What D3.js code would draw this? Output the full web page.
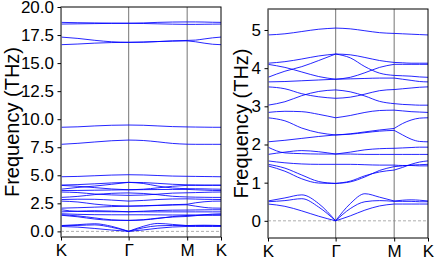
<!DOCTYPE html>
<html>
<head>
<meta charset="utf-8">
<script src="https://cdn.jsdelivr.net/npm/d3@7/dist/d3.min.js"></script>
<style>
  body { margin: 0; background: #fff; }
  text { font-family: "Liberation Sans", Arial, sans-serif; }
</style>
</head>
<body>
<svg id="chart" width="436" height="259"></svg>
<script>
// high symmetry path K - Gamma - M - K (distances in 2pi/a units)
const kLabels = ["K", "Γ", "M", "K"];
const kTicks = [0, 1.3333, 2.4880, 3.1547];
const segFrac = [0, 0.25, 0.5, 0.75, 1];

// frequencies (THz) at K, 3 pts, Γ, 3 pts, M, 3 pts, K
const acousticBands = [
    [0.52, 0.60, 0.68, 0.45, 0, 0.45, 0.71, 0.62, 0.52, 0.54, 0.55, 0.54, 0.52],
    [0.50, 0.53, 0.58, 0.36, 0, 0.32, 0.50, 0.53, 0.51, 0.51, 0.51, 0.50, 0.50],
    [0.44, 0.38, 0.26, 0.12, 0, 0.13, 0.28, 0.39, 0.44, 0.44, 0.44, 0.44, 0.44]
];

const lowOptical = [
    [4.87, 4.90, 4.96, 5.02, 5.05, 5.03, 4.98, 4.93, 4.91, 4.90, 4.89, 4.88, 4.87],
    [4.13, 4.17, 4.24, 4.32, 4.37, 4.35, 4.28, 4.20, 4.15, 4.14, 4.13, 4.13, 4.13],
    [4.10, 4.02, 3.90, 3.78, 3.71, 3.76, 3.88, 4.02, 4.10, 4.10, 4.10, 4.10, 4.10],
    [3.76, 3.92, 4.04, 4.20, 4.37, 4.27, 4.04, 3.87, 3.81, 3.80, 3.79, 3.77, 3.76],
    [3.64, 3.65, 3.67, 3.69, 3.71, 3.72, 3.73, 3.74, 3.74, 3.71, 3.68, 3.65, 3.64],
    [3.51, 3.46, 3.33, 3.25, 3.21, 3.24, 3.32, 3.41, 3.44, 3.46, 3.48, 3.50, 3.51],
    [3.03, 3.12, 3.28, 3.39, 3.43, 3.38, 3.27, 3.13, 3.07, 3.05, 3.04, 3.03, 3.03],
    [2.84, 2.87, 2.86, 2.79, 2.70, 2.76, 2.84, 2.89, 2.90, 2.88, 2.86, 2.85, 2.84],
    [2.70, 2.62, 2.43, 2.31, 2.25, 2.28, 2.33, 2.38, 2.42, 2.55, 2.64, 2.69, 2.70],
    [2.07, 2.11, 2.16, 2.21, 2.25, 2.27, 2.31, 2.35, 2.37, 2.25, 2.14, 2.08, 2.07],
    [1.93, 1.78, 1.76, 1.75, 1.75, 1.80, 1.86, 1.89, 1.90, 1.91, 1.92, 1.93, 1.93],
    [1.74, 1.80, 1.84, 1.81, 1.75, 1.75, 1.74, 1.74, 1.74, 1.74, 1.74, 1.74, 1.74],
    [1.57, 1.52, 1.49, 1.48, 1.48, 1.48, 1.47, 1.46, 1.46, 1.45, 1.45, 1.44, 1.44],
    [1.48, 1.38, 1.20, 1.03, 0.98, 1.02, 1.15, 1.32, 1.42, 1.44, 1.46, 1.47, 1.48],
    [1.44, 1.30, 1.10, 0.99, 0.98, 1.04, 1.18, 1.28, 1.33, 1.40, 1.48, 1.54, 1.57]
];

const highOptical = [
    [7.76, 7.85, 7.97, 8.08, 8.14, 8.10, 7.98, 7.84, 7.77, 7.76, 7.76, 7.76, 7.76],
    [9.28, 9.32, 9.40, 9.46, 9.48, 9.46, 9.40, 9.34, 9.31, 9.30, 9.29, 9.28, 9.28],
    [17.32, 17.20, 17.03, 16.90, 16.85, 16.87, 16.92, 16.98, 17.02, 17.05, 17.15, 17.25, 17.32],
    [16.64, 16.70, 16.78, 16.83, 16.85, 16.87, 16.92, 16.96, 16.98, 16.90, 16.78, 16.68, 16.64],
    [18.63, 18.60, 18.58, 18.56, 18.55, 18.58, 18.63, 18.66, 18.67, 18.67, 18.66, 18.64, 18.63],
    [18.48, 18.50, 18.52, 18.54, 18.55, 18.53, 18.50, 18.47, 18.45, 18.45, 18.46, 18.47, 18.48]
];

const yTicksFull = [0, 2.5, 5, 7.5, 10, 12.5, 15, 17.5, 20];
const yTicksZoom = [0, 1, 2, 3, 4, 5];

const allBands = acousticBands.concat(lowOptical, highOptical);

// k value of every sample point along the path
let kPoints = [];
for (let s = 0; s < 3; s++) {
    segFrac.forEach((f, i) => {
        if (s > 0 && i === 0) return;
        kPoints.push(kTicks[s] + f * (kTicks[s + 1] - kTicks[s]));
    });
}

const svg = d3.select("#chart");

function panel(id, box, yDomain, yTicks, yFormat, labelX) {
    let xScale = d3.scaleLinear().domain([kTicks[0], kTicks[3]]).range([box.x0, box.x1]);
    let yScale = d3.scaleLinear().domain(yDomain).range([box.y1, box.y0]);

    let g = svg.append("g");

    g.append("defs").append("clipPath")
        .attr("id", "clip-" + id)
        .append("rect")
        .attr("x", box.x0).attr("y", box.y0)
        .attr("width", box.x1 - box.x0).attr("height", box.y1 - box.y0);

    let plot = g.append("g").attr("clip-path", "url(#clip-" + id + ")");

    // zero line
    plot.append("line")
        .attr("x1", box.x0).attr("x2", box.x1)
        .attr("y1", yScale(0)).attr("y2", yScale(0))
        .attr("stroke", "#999").attr("stroke-width", 0.8)
        .attr("stroke-dasharray", "3,2");

    // high symmetry lines
    plot.selectAll(".kline")
        .data(kTicks.slice(0, 3))
        .join("line")
        .attr("class", "kline")
        .attr("x1", d => xScale(d)).attr("x2", d => xScale(d))
        .attr("y1", box.y0).attr("y2", box.y1)
        .attr("stroke", "#8c8c8c").attr("stroke-width", 1.2);

    // bands, drawn segment by segment so Γ stays a cusp
    let line = d3.line()
        .x(d => xScale(d[0]))
        .y(d => yScale(d[1]))
        .curve(d3.curveMonotoneX);

    let segs = [];
    allBands.forEach(b => {
        for (let s = 0; s < 3; s++) {
            let pts = [];
            for (let i = 0; i < 5; i++) pts.push([kPoints[s * 4 + i], b[s * 4 + i]]);
            segs.push(pts);
        }
    });

    plot.selectAll(".band")
        .data(segs)
        .join("path")
        .attr("class", "band")
        .attr("d", line)
        .attr("fill", "none")
        .attr("stroke", "#0000ff")
        .attr("stroke-opacity", 0.85)
        .attr("stroke-width", 1);

    // frame
    g.append("rect")
        .attr("x", box.x0).attr("y", box.y0)
        .attr("width", box.x1 - box.x0).attr("height", box.y1 - box.y0)
        .attr("fill", "none").attr("stroke", "#000").attr("stroke-width", 1);
    g.append("line")
        .attr("x1", box.x0).attr("x2", box.x0)
        .attr("y1", box.y0).attr("y2", box.y1)
        .attr("stroke", "#8c8c8c").attr("stroke-width", 1.2);

    // axes
    let yAxis = d3.axisLeft(yScale).tickValues(yTicks).tickFormat(yFormat)
        .tickSize(3.5).tickPadding(3.5).tickSizeOuter(0);
    let ya = g.append("g").attr("transform", "translate(" + box.x0 + ",0)").call(yAxis);
    ya.select(".domain").remove();
    ya.selectAll("text").attr("font-size", 17).attr("fill", "#000")
        .style("font-family", "'Liberation Sans', Arial, sans-serif");

    let xAxis = d3.axisBottom(xScale).tickValues(kTicks).tickFormat((d, i) => kLabels[i])
        .tickSize(3.5).tickPadding(3.5).tickSizeOuter(0);
    let xa = g.append("g").attr("transform", "translate(0," + box.y1 + ")").call(xAxis);
    xa.select(".domain").remove();
    xa.selectAll("text").attr("font-size", 17).attr("fill", "#000")
        .style("font-family", "'Liberation Sans', Arial, sans-serif");

    g.append("text")
        .attr("transform", "translate(" + labelX + "," + ((box.y0 + box.y1) / 2) + ") rotate(-90)")
        .attr("text-anchor", "middle")
        .attr("font-size", 20)
        .text("Frequency (THz)");
}

panel("full", {x0: 61, x1: 221, y0: 7, y1: 237}, [-0.5, 20], yTicksFull, d3.format(".1f"), 19);
panel("zoom", {x0: 268, x1: 428, y0: 9, y1: 238}, [-0.45, 5.55], yTicksZoom, d3.format("d"), 248);
</script>
</body>
</html>
